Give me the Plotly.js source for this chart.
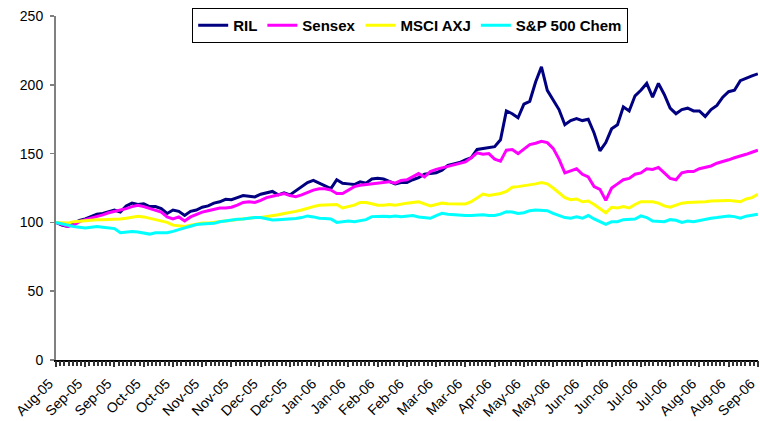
<!DOCTYPE html>
<html>
<head>
<meta charset="utf-8">
<script src="https://cdn.plot.ly/plotly-3.0.1.min.js"></script>
<style>
  html, body { margin: 0; padding: 0; background: #fff; }
  #chart { width: 760px; height: 421px; }
</style>
</head>
<body>
<div id="chart"></div>
<script>
// Tick labels (one every 10 units on the category index axis)
const tickLabels = ["Aug-05","Sep-05","Sep-05","Oct-05","Oct-05","Nov-05","Nov-05","Dec-05","Dec-05",
  "Jan-06","Jan-06","Feb-06","Feb-06","Mar-06","Mar-06","Apr-06","May-06","May-06",
  "Jun-06","Jun-06","Jul-06","Jul-06","Aug-06","Aug-06","Sep-06"];

const seriesNames = ["RIL", "Sensex", "MSCI AXJ", "S&P 500 Chem"];

const ril = [100,98,97,99,101.5,102.5,104,106,106.5,108,
  109,107.5,112,114,113,113.5,111.5,111.5,110,106.5,
  109,108,105,108,109,111,112,114,115,116.8,
  116.5,118,119.5,119,118.5,120.5,121.5,122.5,120,121.5,
  120,123,125.5,129,130.5,128.5,126,124.5,131,128.5,
  128,127.5,129.5,128.5,131.5,132,131.5,129.5,128,129,
  129,131,132.5,135,135.5,136,138,141.5,142.5,143.5,
  145.5,147,153,153.5,154,155,160,181,179,176,
  186,188,202,213,196,189,182,171,174,175.5,
  174,175,165,152,158,168,171,184,181,192,
  196,201,191,201,193,183,179,182,183,181,
  181,177,182,185,191,195,196,203,205,206.5,
  208];

const sensex = [100,98.5,97,98,100.5,102,103,104.5,105.5,107,
  108,108.5,110,111.5,112.5,111.5,110,108.5,107.5,104,
  102.5,104,101,104,106,107.5,108.5,109.5,110.5,110.5,
  111,112.5,114.5,115,114.5,116,118,119,119.9,121,
  119.5,118.7,120,122,123.5,124.5,124.5,123.5,121,121,
  123.5,126,127,127.5,128,128.5,129,129.6,128.5,130.5,
  131,133,135.5,133,137,138.5,139.5,140.5,141.7,143,
  144,147,150.5,149.5,150,146,144.5,152.5,153,150,
  153.5,156.5,157.5,159,158,153.8,146,136,137.5,139,
  135,133,126,124,116,125,128,131,132,135,
  136,139,138.5,140,136,132,131,136,137,137,
  139,140,141,143,144,145.5,147,148,149.5,151,
  152.5];

const msciAxj = [100,100,99.5,100.5,101,101.5,102,102,102,102,
  102,102.5,103,104,104.5,104,103,102.5,101.5,100,
  98,97.5,97,98,99,99.5,99.5,100,101,101.5,
  102,102.5,103,103,103.5,103.5,104,105,105.5,106.5,
  107,108,109,110.5,111.5,112.5,112.5,113,113,110.5,
  111.5,112.5,114.5,114.5,113.5,112.5,112.5,113,112.5,113.5,
  114,114.5,115,113.5,112,113,114,113.5,113.5,113.5,
  113.4,115,118,120.6,119.5,120,121,122.5,125.5,126,
  126.5,127.5,128,129,128,125,121.5,118,116.5,117,
  115,115.5,113,110.2,107,111,110.5,111.5,110.5,113,
  115,115,115,114,112,111,112.5,114,114.5,114.5,
  115,115,115.5,115.8,116,116,115.5,115,117,118,
  120.5];

const spChem = [100,99,97.5,97,96.5,96,96.5,97,96.5,96,
  95.5,92.5,93,93.3,93,92,91.5,92.5,92.5,92.5,
  93.5,94.5,96,97.2,98.5,98.8,99,99.3,100.5,101.2,
  101.7,102.2,102.4,103,103.5,103.6,102.5,101.7,102,102.2,
  102.5,102.9,103.5,104.7,104,103,102.9,102.5,100,100.5,
  101,100.5,101,102,104.2,104.5,104.5,104.2,104.7,104.2,
  104.5,105,104,103.5,103,105,106.6,106,105.5,105,
  105,105,105.5,105.5,105,105,106,107.8,107.5,106.5,
  107,108.5,109,109,108.5,106.6,105,103.5,103,104,
  103,105,102.5,100.5,98.5,100.5,100.5,102,102,102.5,
  104.7,103.5,101,100.5,100.5,102,101.5,100,101,100.5,
  101.5,102.5,103,103.5,104,104.7,104.2,103,104.5,105.5,
  106];

const seriesColors = ["#000080", "#FF00FF", "#FFFF00", "#00FFFF"];
const allSeries = [ril, sensex, msciAxj, spChem];

const xIdx = ril.map((_, i) => i * 2);
const tickVals = tickLabels.map((_, i) => i * 10);

const traces = allSeries.map((ys, k) => ({
  type: "scatter",
  mode: "lines",
  name: seriesNames[k],
  x: xIdx,
  y: ys,
  line: { color: seriesColors[k], width: 3 },
  hoverinfo: "skip"
}));

// invisible carrier trace so the category tick-mark axis is rendered
traces.push({
  type: "scatter", mode: "lines", x: [0], y: [null], xaxis: "x2", yaxis: "y",
  showlegend: false, hoverinfo: "skip", line: { width: 0 }
});

const fontFamily = "Arial, 'Liberation Sans', sans-serif";
const baseFont = { family: fontFamily, size: 14, color: "#000" };
const xRange = [0, 240.05];

const layout = {
  width: 760, height: 421,
  margin: { l: 56, r: 2, t: 16, b: 61, pad: 0 },
  paper_bgcolor: "#fff",
  plot_bgcolor: "#fff",
  font: baseFont,
  showlegend: true,
  legend: {
    orientation: "h",
    x: 0.194, xanchor: "left",
    y: 1.023, yanchor: "top",
    bgcolor: "#fff",
    bordercolor: "#000",
    borderwidth: 1,
    font: { family: fontFamily, size: 15, color: "#000", weight: "bold" },
    itemwidth: 30,
    traceorder: "normal"
  },
  xaxis: {
    range: xRange,
    tickmode: "array",
    tickvals: tickVals,
    ticktext: tickLabels,
    tickangle: -45,
    showgrid: false,
    zeroline: false,
    showline: true,
    linecolor: "#000",
    linewidth: 2,
    ticks: "outside",
    ticklen: 5,
    tickwidth: 2,
    tickcolor: "#333",
    ticklabelstandoff: 3,
    ticklabelshift: -7,
    ticklabeloverflow: "allow",
    tickfont: baseFont,
    automargin: false,
    fixedrange: true
  },
  xaxis2: {
    overlaying: "x",
    anchor: "y",
    side: "bottom",
    range: xRange,
    tickmode: "linear",
    tick0: 0,
    dtick: 10 / 7,
    ticks: "outside",
    ticklen: 5,
    tickwidth: 2,
    tickcolor: "#333",
    showticklabels: false,
    showgrid: false,
    zeroline: false,
    showline: false,
    automargin: false,
    fixedrange: true
  },
  yaxis: {
    range: [0, 250],
    tickmode: "linear",
    tick0: 0,
    dtick: 50,
    showgrid: false,
    zeroline: false,
    showline: true,
    linecolor: "#808080",
    linewidth: 2,
    ticks: "outside",
    ticklen: 4,
    tickwidth: 1.5,
    tickcolor: "#808080",
    ticklabelstandoff: 4,
    tickfont: baseFont,
    automargin: false,
    fixedrange: true
  }
};

Plotly.newPlot("chart", traces, layout, { staticPlot: true, displayModeBar: false });
</script>
</body>
</html>
